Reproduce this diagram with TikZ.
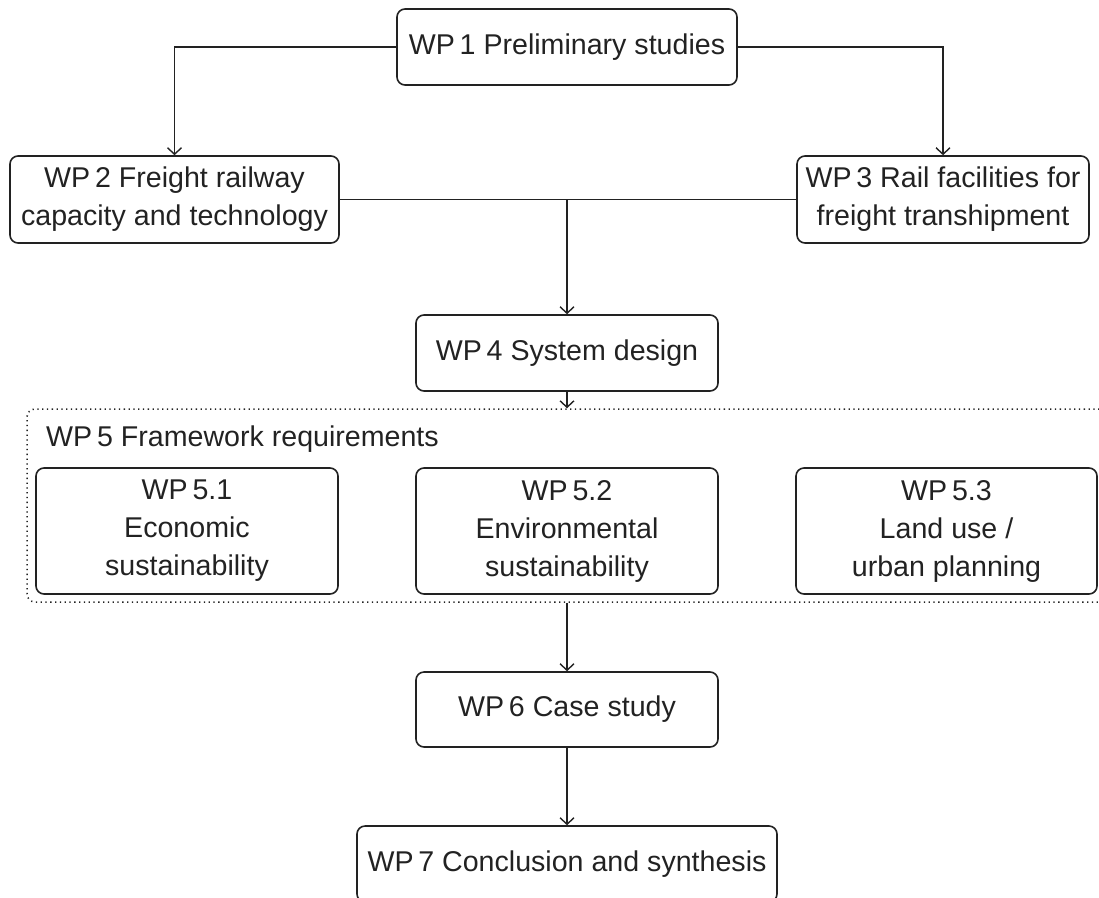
\documentclass[tikz,border=0pt]{standalone}
\usepackage{fontspec}
\setmainfont{Liberation Sans}
\usetikzlibrary{arrows.meta}
\definecolor{ink}{HTML}{222222}
\tikzset{
  wpbox/.style={draw=ink, line width=1.6pt, rounded corners=8pt, inner sep=0pt, align=center, text=ink},
  conn/.style={draw=ink, line width=1.5pt},
  arr/.style={conn, -{Straight Barb[length=6.5pt,width=14pt,line width=1.4pt]}},
  frame/.style={draw=ink, line width=1.5pt, rounded corners=8pt, dash pattern=on 1.3pt off 3.5pt, inner sep=0pt}
}
\begin{document}
\begin{tikzpicture}[x=1pt,y=-1pt,font=\fontsize{28.6}{38}\selectfont]
\useasboundingbox (0,0) rectangle (1099,897);
\clip (0,0) rectangle (1099,897);
% dotted frame WP 5
\node[frame, minimum width=1090pt, minimum height=193pt] (wp5) at (572,505.5) {};
\node[anchor=base west, text=ink, inner sep=0pt] (wp5lab) at (46,446) {WP\,5 Framework requirements};
% boxes
\node[wpbox, minimum width=340pt, minimum height=76pt] (wp1) at (567,47) {WP\,1 Preliminary studies};
\node[wpbox, minimum width=329pt, minimum height=87pt] (wp2) at (174.5,199.5) {WP\,2 Freight railway\\capacity and technology};
\node[wpbox, minimum width=292pt, minimum height=87pt] (wp3) at (943,199.5) {WP\,3 Rail facilities for\\freight transhipment};
\node[wpbox, minimum width=302pt, minimum height=76pt] (wp4) at (567,353) {WP\,4 System design};
\node[wpbox, minimum width=302pt, minimum height=126pt] (wp51) at (187,531) {WP\,5.1\\Economic\\sustainability};
\node[wpbox, minimum width=302pt, minimum height=126pt] (wp52) at (567,531) {WP\,5.2\\Environmental\\sustainability};
\node[wpbox, minimum width=301pt, minimum height=126pt] (wp53) at (946.5,531) {WP\,5.3\\Land use /\\urban planning};
\node[wpbox, minimum width=302pt, minimum height=75pt] (wp6) at (567,709.5) {WP\,6 Case study};
\node[wpbox, minimum width=420pt, minimum height=76pt] (wp7) at (567,864) {WP\,7 Conclusion and synthesis};
% connectors
\draw[arr] (wp1.west) -| (wp2.north);
\draw[arr] (wp1.east) -| (wp3.north);
\draw[conn] (wp2.east) -- (wp3.west);
\coordinate (join) at (wp2.east -| wp4.north);
\draw[arr] (join) -- (wp4.north);
\draw[arr] (wp4.south) -- (wp4.south |- wp5.north);
\draw[arr] (wp4.south |- wp5.south) -- (wp6.north);
\draw[arr] (wp6.south) -- (wp7.north);
\end{tikzpicture}
\end{document}
